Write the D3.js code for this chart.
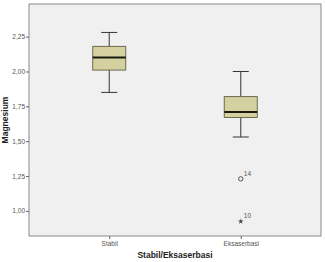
<!DOCTYPE html>
<html>
<head>
<meta charset="utf-8">
<script src="https://cdn.jsdelivr.net/npm/d3@7"></script>
<style>
  body { margin: 0; background: #fff; }
  svg text { font-family: Arial, "Liberation Sans", sans-serif; }
</style>
</head>
<body>
<div id="plot"></div>
<script>
// data
var groups = ["Stabil", "Eksaserbasi"];
var whiskerLow = [1.85, 1.53];
var q1 = [2.01, 1.67];
var median = [2.10, 1.71];
var q3 = [2.18, 1.82];
var whiskerHigh = [2.28, 2.00];
var outlierGroup = ["Eksaserbasi", "Eksaserbasi"];
var outlierValue = [1.23, 0.925];
var outlierId = ["14", "10"];
var outlierKind = ["circle", "star"];
var yTicks = [1.00, 1.25, 1.50, 1.75, 2.00, 2.25];

var margin = { top: 4, right: 4, bottom: 26, left: 29 }
    , width = 325 - margin.left - margin.right
    , height = 262 - margin.top - margin.bottom;

var svg = d3.select("#plot").append("svg")
    .attr("width", 325)
    .attr("height", 262);

var g = svg.append("g")
    .attr("transform", "translate(" + margin.left + "," + margin.top + ")");

var xScale = d3.scalePoint()
    .domain(groups)
    .range([0, width])
    .padding(0.61);

var yScale = d3.scaleLinear()
    .domain([0.82, 2.484])
    .range([height, 0]);

g.append("rect")
    .attr("width", width)
    .attr("height", height)
    .attr("fill", "#f0f0f0")
    .attr("stroke", "#8a8a8a")
    .attr("stroke-width", 1);

var fmt = function (d) { return d3.format(".2f")(d).replace(".", ","); };

var yAxis = g.append("g")
    .call(d3.axisLeft(yScale).tickValues(yTicks).tickFormat(fmt).tickSize(3).tickPadding(1));
yAxis.select(".domain").remove();
yAxis.selectAll("line").attr("stroke", "#666");
yAxis.selectAll("text").attr("fill", "#555").style("font-size", "6.5px");

var xAxis = g.append("g")
    .attr("transform", "translate(0," + height + ")")
    .call(d3.axisBottom(xScale).tickSize(3).tickPadding(2));
xAxis.select(".domain").remove();
xAxis.selectAll("line").attr("stroke", "#666");
xAxis.selectAll("text").attr("fill", "#555").style("font-size", "6.5px");

var boxW = 33, capW = 16;

var boxes = g.selectAll(".box")
    .data(groups)
    .enter().append("g")
    .attr("class", "box")
    .attr("transform", function (d) { return "translate(" + xScale(d) + ",0)"; });

boxes.append("line")
    .attr("y1", function (d, i) { return yScale(whiskerHigh[i]); })
    .attr("y2", function (d, i) { return yScale(q3[i]); })
    .attr("stroke", "#333");
boxes.append("line")
    .attr("y1", function (d, i) { return yScale(q1[i]); })
    .attr("y2", function (d, i) { return yScale(whiskerLow[i]); })
    .attr("stroke", "#333");
boxes.append("line")
    .attr("x1", -capW / 2).attr("x2", capW / 2)
    .attr("y1", function (d, i) { return yScale(whiskerHigh[i]); })
    .attr("y2", function (d, i) { return yScale(whiskerHigh[i]); })
    .attr("stroke", "#333");
boxes.append("line")
    .attr("x1", -capW / 2).attr("x2", capW / 2)
    .attr("y1", function (d, i) { return yScale(whiskerLow[i]); })
    .attr("y2", function (d, i) { return yScale(whiskerLow[i]); })
    .attr("stroke", "#333");
boxes.append("rect")
    .attr("x", -boxW / 2)
    .attr("width", boxW)
    .attr("y", function (d, i) { return yScale(q3[i]); })
    .attr("height", function (d, i) { return yScale(q1[i]) - yScale(q3[i]); })
    .attr("fill", "#d5d0a0")
    .attr("stroke", "#6b6b50");
boxes.append("line")
    .attr("x1", -boxW / 2).attr("x2", boxW / 2)
    .attr("y1", function (d, i) { return yScale(median[i]); })
    .attr("y2", function (d, i) { return yScale(median[i]); })
    .attr("stroke", "#1a1a10")
    .attr("stroke-width", 2);

outlierValue.forEach(function (v, i) {
    var cx = xScale(outlierGroup[i]), cy = yScale(v);
    if (outlierKind[i] == "circle") {
        g.append("circle").attr("cx", cx).attr("cy", cy).attr("r", 2.2)
            .attr("fill", "none").attr("stroke", "#555");
    } else {
        g.append("path").attr("transform", "translate(" + cx + "," + cy + ")")
            .attr("d", d3.symbol().type(d3.symbolStar).size(10)())
            .attr("fill", "#444");
    }
    g.append("text").attr("x", cx + 3).attr("y", cy - 3)
        .text(outlierId[i])
        .attr("fill", "#555").style("font-size", "6.5px");
});

svg.append("text")
    .attr("x", margin.left + width / 2 + 0)
    .attr("y", 258)
    .attr("text-anchor", "middle")
    .style("font-size", "8.5px").style("font-weight", "bold")
    .attr("fill", "#222")
    .text("Stabil/Eksaserbasi");

svg.append("text")
    .attr("transform", "translate(8," + (margin.top + height / 2) + ") rotate(-90)")
    .attr("text-anchor", "middle")
    .style("font-size", "8.5px").style("font-weight", "bold")
    .attr("fill", "#222")
    .text("Magnesium");
</script>
</body>
</html>
